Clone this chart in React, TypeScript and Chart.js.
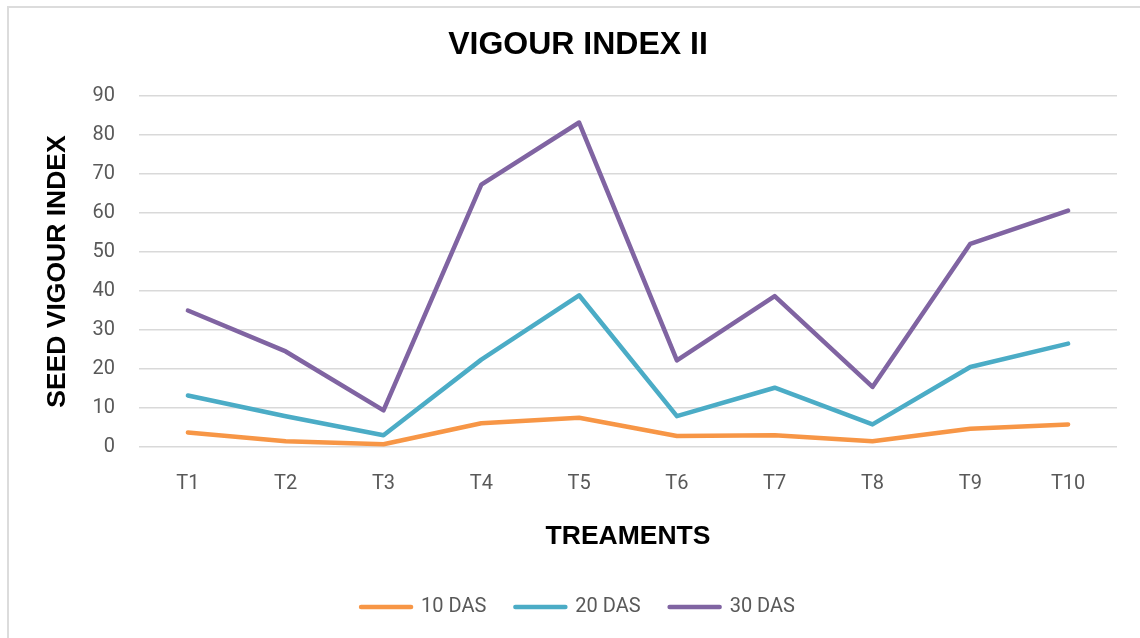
import React, { useEffect, useRef } from "react";
import { Chart, registerables } from "chart.js";

Chart.register(...registerables);

const categories = ["T1", "T2", "T3", "T4", "T5", "T6", "T7", "T8", "T9", "T10"];
const das10 = [3.7, 1.5, 0.7, 6.1, 7.5, 2.8, 3.0, 1.5, 4.7, 5.8];
const das20 = [13.2, 7.9, 3.0, 22.4, 38.9, 7.9, 15.2, 5.8, 20.5, 26.5];
const das30 = [35.0, 24.5, 9.4, 67.3, 83.2, 22.2, 38.7, 15.4, 52.1, 60.6];
const seriesNames = ["10 DAS", "20 DAS", "30 DAS"];
const seriesColors = ["#F79646", "#4BACC6", "#8064A2"];
const yTicks = [0, 10, 20, 30, 40, 50, 60, 70, 80, 90];

const tickColor = "#595959";
const gridColor = "#d9d9d9";

export default function App() {
  const canvasRef = useRef<HTMLCanvasElement | null>(null);

  useEffect(() => {
    if (!canvasRef.current) return;
    const values = [das10, das20, das30];
    const chart = new Chart(canvasRef.current, {
      type: "line",
      data: {
        labels: categories,
        datasets: values.map((v, i) => ({
          label: seriesNames[i],
          data: v,
          borderColor: seriesColors[i],
          backgroundColor: seriesColors[i],
          borderWidth: 4.5,
          borderCapStyle: "round" as const,
          borderJoinStyle: "round" as const,
          pointRadius: 0,
          tension: 0,
          fill: false,
        })),
      },
      options: {
        animation: false,
        responsive: false,
        maintainAspectRatio: false,
        layout: { padding: { left: 39, right: 23, top: 0, bottom: 11 } },
        plugins: {
          title: {
            display: true,
            text: "VIGOUR INDEX II",
            color: "#000000",
            font: { family: "'Liberation Sans', Arial, sans-serif", size: 32, weight: "bold", lineHeight: 1.2 },
            padding: { top: 25.8, bottom: 31.8 },
          },
          legend: {
            display: true,
            position: "bottom",
            labels: {
              usePointStyle: true,
              pointStyle: "line",
              pointStyleWidth: 50,
              padding: 29,
              color: tickColor,
              font: { family: "Roboto, sans-serif", size: 20 },
              generateLabels: (c: any) =>
                Chart.defaults.plugins.legend.labels
                  .generateLabels(c)
                  .map((l: any) => ({ ...l, lineCap: "round", lineWidth: 4.5 })),
            },
          },
          tooltip: { enabled: false },
        },
        scales: {
          x: {
            offset: true,
            grid: { display: false, drawTicks: false },
            border: { display: false },
            ticks: {
              color: tickColor,
              padding: 25,
              font: { family: "Roboto, sans-serif", size: 20, lineHeight: 1.2 },
              maxRotation: 0,
              autoSkip: false,
            },
            title: {
              display: true,
              text: "TREAMENTS",
              color: "#000000",
              font: { family: "'Liberation Sans', Arial, sans-serif", size: 26.5, weight: "bold", lineHeight: 1.2 },
              padding: { top: 0, bottom: 15.1 },
            },
            afterFit: (scale: any) => {
              scale.height = 121;
            },
          },
          y: {
            min: 0,
            max: 90,
            afterBuildTicks: (scale: any) => {
              scale.ticks = yTicks.map((v) => ({ value: v }));
            },
            grid: { color: gridColor, lineWidth: 1.5, drawTicks: false },
            border: { display: false },
            ticks: {
              color: tickColor,
              padding: 24,
              font: { family: "Roboto, sans-serif", size: 20, lineHeight: 1.2 },
            },
            title: {
              display: true,
              text: "SEED VIGOUR INDEX",
              color: "#000000",
              font: { family: "'Liberation Sans', Arial, sans-serif", size: 26.5, weight: "bold", lineHeight: 1.2 },
              padding: { top: 3.1, bottom: 0 },
            },
            afterFit: (scale: any) => {
              scale.width = 100;
            },
          },
        },
      },
    });
    return () => chart.destroy();
  }, []);

  return (
    <div
      style={{
        position: "fixed",
        left: 0,
        top: 0,
        width: 1140,
        height: 638,
        overflow: "hidden",
        background: "#ffffff",
      }}
    >
      <div
        style={{
          position: "absolute",
          left: 7,
          top: 6,
          width: 1200,
          height: 700,
          border: "2px solid #dcdcdc",
          boxSizing: "border-box",
        }}
      />
      <canvas
        ref={canvasRef}
        width={1140}
        height={638}
        style={{ position: "absolute", left: 0, top: 0, width: 1140, height: 638 }}
      />
    </div>
  );
}
